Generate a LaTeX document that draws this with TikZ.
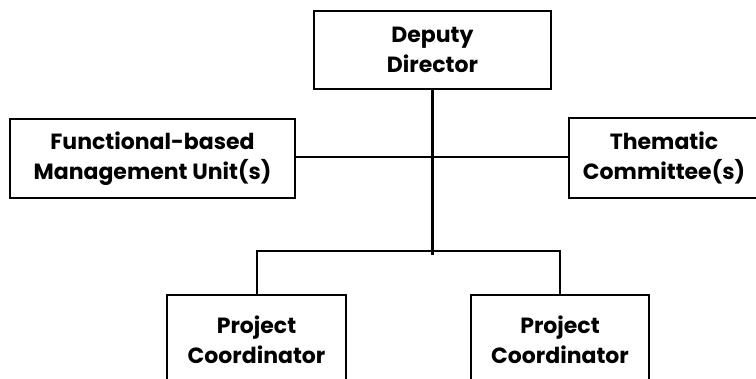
\documentclass[tikz,border=0pt]{standalone}
\usepackage{fontspec}
\setmainfont{Poppins}
\usepackage{tikz}

\begin{document}
\begin{tikzpicture}[x=1pt, y=-1pt,
  unitbox/.style={draw=black, line width=2.6pt, rectangle, align=center, inner sep=0pt,
    font=\bfseries\fontsize{22}{30.5}\selectfont},
  link/.style={draw=black, line width=2pt}]
\useasboundingbox (0,0) rectangle (756,379);
\node[unitbox, minimum width=237, minimum height=78] (Deputy) at (432.5,50) {Deputy\\Director};
\node[unitbox, minimum width=285, minimum height=79] (Functional) at (152.5,158.5) {Functional-based\\Management Unit(s)};
\node[unitbox, minimum width=190, minimum height=80] (Thematic) at (664,158) {Thematic\\Committee(s)};
\node[unitbox, minimum width=179, minimum height=90] (ProjectA) at (256.5,340) {Project\\Coordinator};
\node[unitbox, minimum width=178, minimum height=90] (ProjectB) at (560,340) {Project\\Coordinator};
\coordinate (Trunk) at (432.5,255);
\coordinate (Branch) at (432.5,251);
\draw[link, line width=3pt] (Deputy.south) -- (Trunk);
\draw[link] (Functional.east |- 0,157) -- (Thematic.west |- 0,157);
\draw[link] (ProjectA.north) |- (Branch) -| (ProjectB.north);
\end{tikzpicture}
\end{document}
